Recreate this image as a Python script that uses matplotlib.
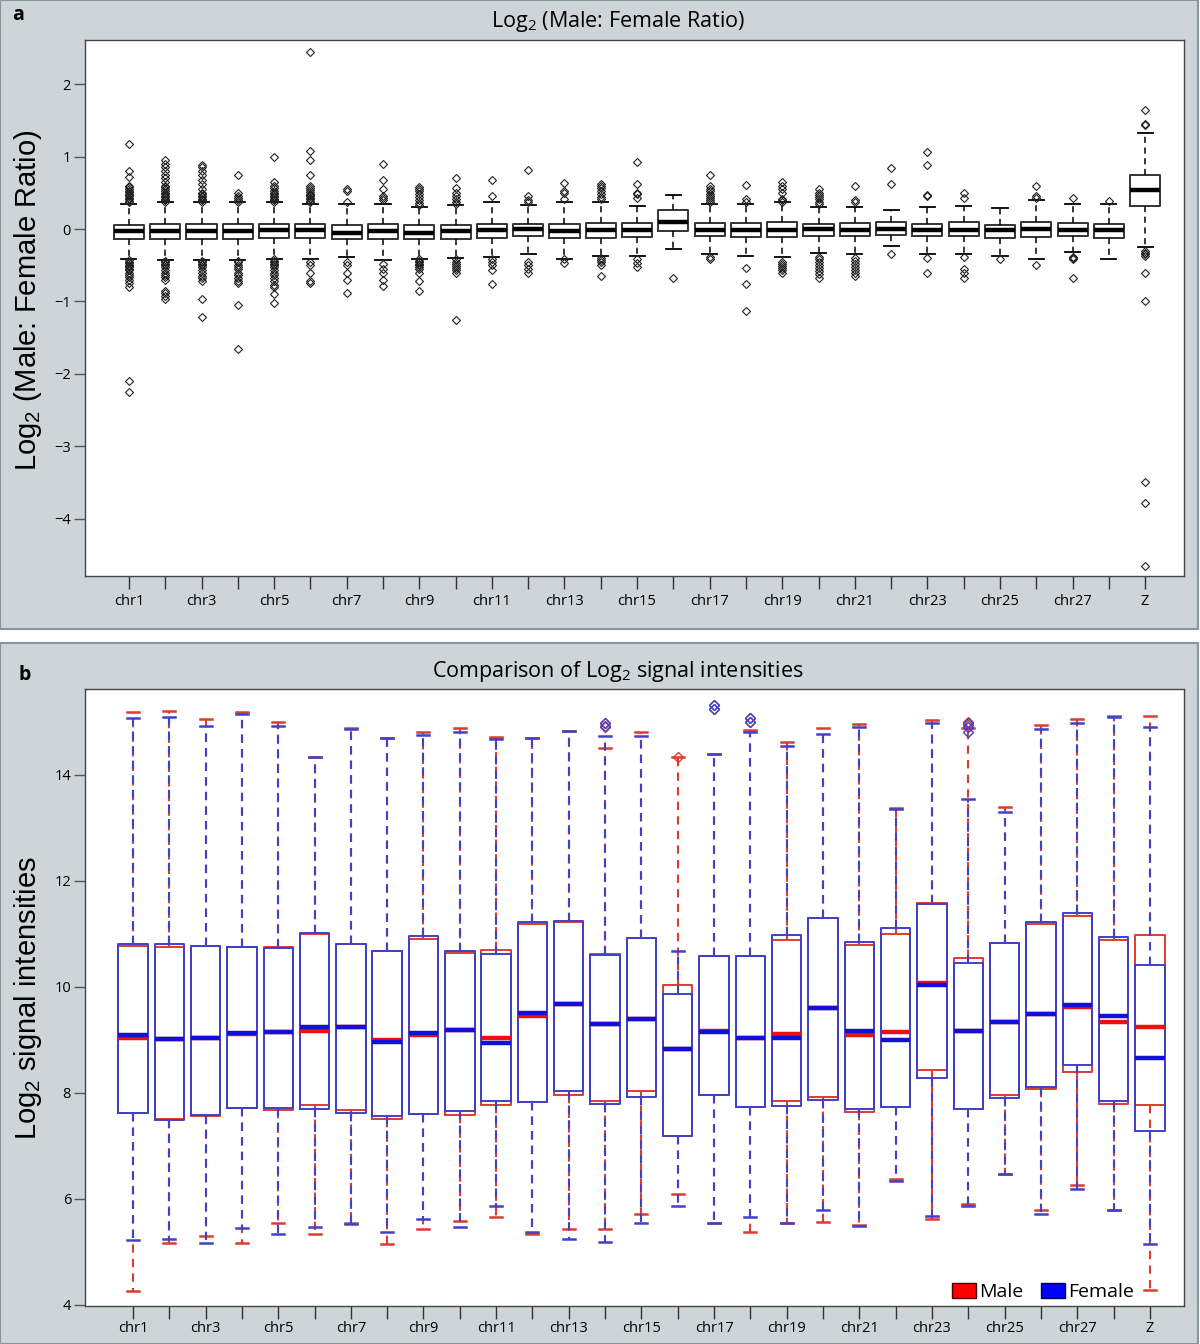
import matplotlib
matplotlib.use("Agg")
import matplotlib.pyplot as plt
from matplotlib.patches import Rectangle, Patch

plt.rcParams['font.family'] = ['Open Sans', 'DejaVu Sans']
plt.rcParams['mathtext.fontset'] = 'custom'
plt.rcParams['mathtext.rm'] = 'Open Sans'
plt.rcParams['mathtext.default'] = 'regular'

# chromosomes
chroms = ['chr%d' % i for i in range(1, 29)] + ['Z']
tick_labels = [c if (i % 2 == 0 or c == 'Z') else '' for i, c in enumerate(chroms)]

# ---- panel a: log2 male/female ratio ----
med_a = [-0.03, -0.03, -0.03, -0.03, -0.01, -0.02, -0.05, -0.03, -0.05, -0.03, -0.01, 0.0, -0.03, -0.01,
         -0.01, 0.10, -0.01, -0.01, -0.01, 0.0, -0.01, 0.0, -0.01, -0.01, -0.02, 0.0, -0.01, -0.02, 0.54]
q1_a = [-0.14, -0.14, -0.14, -0.14, -0.12, -0.12, -0.14, -0.14, -0.14, -0.14, -0.12, -0.10, -0.12, -0.12,
        -0.11, -0.03, -0.09, -0.11, -0.11, -0.10, -0.10, -0.08, -0.10, -0.10, -0.12, -0.11, -0.10, -0.12, 0.32]
q3_a = [0.06, 0.07, 0.07, 0.07, 0.07, 0.07, 0.055, 0.07, 0.055, 0.055, 0.07, 0.07, 0.07, 0.09,
        0.09, 0.26, 0.09, 0.09, 0.10, 0.07, 0.09, 0.10, 0.07, 0.10, 0.055, 0.10, 0.09, 0.07, 0.75]
whi_a = [0.35, 0.37, 0.37, 0.37, 0.37, 0.35, 0.34, 0.35, 0.31, 0.33, 0.37, 0.33, 0.38, 0.38,
         0.32, 0.47, 0.34, 0.35, 0.37, 0.31, 0.31, 0.26, 0.31, 0.32, 0.29, 0.40, 0.35, 0.35, 1.32]
wlo_a = [-0.41, -0.43, -0.43, -0.43, -0.41, -0.41, -0.39, -0.43, -0.41, -0.40, -0.39, -0.35, -0.41, -0.37,
         -0.37, -0.28, -0.35, -0.37, -0.39, -0.33, -0.35, -0.23, -0.35, -0.35, -0.37, -0.41, -0.31, -0.41, -0.25]
fliers_a = [
    [0.37, 0.39, 0.41, 0.43, 0.45, 0.47, 0.49, 0.51, 0.53, 0.55, 0.58, 0.60, 0.72, 0.80, 1.18,
     -0.43, -0.45, -0.47, -0.49, -0.51, -0.53, -0.55, -0.57, -0.60, -0.63, -0.66, -0.70, -0.75, -0.80, -2.10, -2.25],
    [0.38, 0.40, 0.42, 0.44, 0.46, 0.48, 0.50, 0.52, 0.55, 0.58, 0.60, 0.65, 0.70, 0.75, 0.80, 0.85, 0.90, 0.95,
     -0.44, -0.46, -0.48, -0.50, -0.53, -0.56, -0.60, -0.63, -0.66, -0.70, -0.85, -0.88, -0.92, -0.97],
    [0.38, 0.40, 0.42, 0.44, 0.46, 0.48, 0.50, 0.55, 0.62, 0.68, 0.75, 0.80, 0.85, 0.89,
     -0.44, -0.46, -0.48, -0.50, -0.53, -0.56, -0.60, -0.65, -0.68, -0.72, -0.97, -1.22],
    [0.38, 0.40, 0.43, 0.46, 0.50, 0.74,
     -0.44, -0.46, -0.49, -0.52, -0.55, -0.60, -0.64, -0.68, -0.72, -0.75, -1.05, -1.65],
    [0.38, 0.40, 0.42, 0.44, 0.46, 0.48, 0.50, 0.53, 0.56, 0.60, 0.65, 1.00,
     -0.42, -0.44, -0.46, -0.48, -0.50, -0.53, -0.56, -0.60, -0.64, -0.68, -0.72, -0.77, -0.80, -0.90, -1.02],
    [0.37, 0.39, 0.41, 0.43, 0.45, 0.47, 0.49, 0.51, 0.54, 0.57, 0.60, 0.75, 0.95, 1.08, 2.45,
     -0.45, -0.50, -0.60, -0.72, -0.75],
    [0.37, 0.52, 0.55, -0.45, -0.50, -0.60, -0.70, -0.88],
    [0.40, 0.43, 0.45, 0.55, 0.68, 0.90, -0.48, -0.55, -0.60, -0.70, -0.78],
    [0.33, 0.36, 0.40, 0.44, 0.48, 0.52, 0.55, 0.58,
     -0.42, -0.44, -0.46, -0.48, -0.50, -0.53, -0.55, -0.60, -0.72, -0.85],
    [0.35, 0.38, 0.42, 0.46, 0.50, 0.57, 0.70, -0.42, -0.45, -0.48, -0.51, -0.54, -0.57, -0.60, -1.25],
    [0.45, 0.68, -0.42, -0.45, -0.50, -0.57, -0.76],
    [0.37, 0.40, 0.45, 0.82, -0.45, -0.50, -0.55, -0.60],
    [0.42, 0.50, 0.53, 0.64, -0.42, -0.47],
    [0.41, 0.44, 0.48, 0.52, 0.56, 0.60, 0.62, -0.40, -0.43, -0.46, -0.50, -0.65],
    [0.43, 0.48, 0.50, 0.62, 0.93, -0.42, -0.47, -0.53],
    [-0.68],
    [0.37, 0.40, 0.43, 0.46, 0.49, 0.52, 0.55, 0.60, 0.75, -0.38, -0.42],
    [0.38, 0.42, 0.61, -0.54, -0.76, -1.13],
    [0.38, 0.40, 0.42, 0.50, 0.55, 0.60, 0.65, -0.45, -0.48, -0.51, -0.54, -0.57, -0.60],
    [0.35, 0.38, 0.41, 0.44, 0.47, 0.50, 0.55, -0.38, -0.42, -0.46, -0.50, -0.54, -0.58, -0.62, -0.68],
    [0.38, 0.40, 0.59, -0.40, -0.44, -0.48, -0.52, -0.56, -0.60, -0.65],
    [0.62, 0.84, -0.35],
    [0.45, 0.47, 0.88, 1.07, -0.40, -0.60],
    [0.43, 0.50, -0.38, -0.55, -0.60, -0.68],
    [-0.42],
    [0.43, 0.45, 0.60, -0.50],
    [0.43, -0.38, -0.40, -0.42, -0.68],
    [0.39],
    [1.43, 1.45, 1.65, -0.30, -0.33, -0.35, -0.37, -0.60, -1.00, -3.49, -3.78, -4.65],
]

# ---- panel b: log2 signal intensities, male vs female ----
whi_m = [15.18, 15.20, 15.05, 15.18, 15.00, 14.34, 14.88, 14.70, 14.81, 14.88, 14.72, 14.70, 14.82, 14.51,
         14.80, 14.33, 14.40, 14.85, 14.62, 14.88, 14.96, 13.37, 15.03, 14.88, 13.39, 14.94, 15.05, 15.12, 15.12]
q3_m = [10.77, 10.76, 10.78, 10.76, 10.76, 11.00, 10.80, 10.67, 10.91, 10.64, 10.70, 11.19, 11.23, 10.62,
        10.93, 10.03, 10.58, 10.58, 10.88, 11.30, 10.79, 11.00, 11.58, 10.55, 10.83, 11.19, 11.33, 10.88, 10.98]
med_m = [9.04, 9.02, 9.04, 9.12, 9.14, 9.16, 9.25, 8.99, 9.09, 9.18, 9.03, 9.45, 9.67, 9.30,
         9.39, 8.82, 9.16, 9.04, 9.12, 9.60, 9.09, 9.14, 10.07, 9.17, 9.34, 9.48, 9.62, 9.34, 9.25]
q1_m = [7.62, 7.50, 7.56, 7.71, 7.67, 7.77, 7.68, 7.50, 7.60, 7.59, 7.77, 7.82, 7.97, 7.84,
        8.03, 7.19, 7.96, 7.74, 7.84, 7.93, 7.64, 7.74, 8.43, 7.69, 7.96, 8.07, 8.39, 7.79, 7.77]
wlo_m = [4.26, 5.17, 5.31, 5.17, 5.55, 5.33, 5.54, 5.15, 5.43, 5.59, 5.65, 5.33, 5.43, 5.43,
         5.72, 6.10, 5.54, 5.38, 5.54, 5.56, 5.50, 6.38, 5.63, 5.90, 6.47, 5.79, 6.27, 5.79, 4.29]

whi_f = [15.08, 15.10, 14.92, 15.14, 14.92, 14.34, 14.87, 14.70, 14.76, 14.81, 14.67, 14.70, 14.83, 14.74,
         14.74, 10.68, 14.40, 14.80, 14.54, 14.78, 14.90, 13.35, 14.97, 13.54, 13.30, 14.86, 14.97, 15.09, 14.90]
q3_f = [10.80, 10.80, 10.78, 10.76, 10.73, 11.01, 10.80, 10.67, 10.96, 10.68, 10.63, 11.23, 11.24, 10.60,
        10.93, 9.87, 10.58, 10.58, 10.98, 11.30, 10.84, 11.12, 11.56, 10.46, 10.83, 11.22, 11.40, 10.94, 10.42]
med_f = [9.09, 9.02, 9.04, 9.13, 9.14, 9.25, 9.25, 8.96, 9.13, 9.18, 8.95, 9.50, 9.67, 9.30,
         9.39, 8.82, 9.15, 9.04, 9.04, 9.60, 9.16, 9.00, 10.04, 9.17, 9.34, 9.48, 9.66, 9.46, 8.65]
q1_f = [7.62, 7.49, 7.58, 7.71, 7.72, 7.69, 7.62, 7.57, 7.60, 7.65, 7.84, 7.82, 8.04, 7.80,
        7.93, 7.19, 7.96, 7.74, 7.75, 7.86, 7.69, 7.74, 8.29, 7.69, 7.91, 8.11, 8.52, 7.84, 7.28]
wlo_f = [5.22, 5.25, 5.16, 5.45, 5.33, 5.47, 5.52, 5.38, 5.62, 5.47, 5.86, 5.37, 5.25, 5.18,
         5.54, 5.86, 5.54, 5.65, 5.54, 5.79, 5.49, 6.34, 5.67, 5.86, 6.47, 5.72, 6.18, 5.79, 5.15]

fliers_m = [[] for _ in chroms]
fliers_f = [[] for _ in chroms]
fliers_m[13] = [14.90, 14.97]
fliers_f[13] = [14.92, 14.97]
fliers_m[15] = [14.33]
fliers_m[16] = [15.24, 15.32]
fliers_f[16] = [15.24, 15.32]
fliers_m[17] = [15.00, 15.07]
fliers_f[17] = [15.00, 15.07]
fliers_m[23] = [14.95, 15.00]
fliers_f[23] = [14.80, 14.90, 14.97]

RED = '#dc3c30'
RED_MED = '#ee1010'
BLUE = '#4040c8'
BLUE_MED = '#1010d8'
GRAY = '#cdd5d8'
EDGE = '#86969c'


def stats(whi, q3, med, q1, wlo, fl):
    return [dict(whishi=whi[i], q3=q3[i], med=med[i], q1=q1[i], whislo=wlo[i], fliers=fl[i])
            for i in range(len(chroms))]


def style_axis(ax, pad):
    ax.set_xticks(range(1, len(chroms) + 1))
    ax.set_xticklabels(tick_labels, fontsize=10.5)
    ax.tick_params(axis='x', length=9, width=1, color='#333333', pad=pad)
    ax.tick_params(axis='y', length=8, width=1, color='#555555', labelsize=10.5, pad=2)
    for s in ax.spines.values():
        s.set_color('#444444')
        s.set_linewidth(1.0)


fig = plt.figure(figsize=(12, 13.44), dpi=100)
fig.patch.set_facecolor('white')
W, H = 1200.0, 1344.0
fig.patches.append(Rectangle((0, 1 - 629 / H), 1198 / W, 629 / H, transform=fig.transFigure,
                             facecolor=GRAY, edgecolor=EDGE, lw=1.5, zorder=-10))
fig.patches.append(Rectangle((0, 0), 1198 / W, 701 / H, transform=fig.transFigure,
                             facecolor=GRAY, edgecolor=EDGE, lw=1.5, zorder=-10))

# panel a
ax1 = fig.add_axes([85 / W, 1 - 576 / H, 1099 / W, 536 / H])
ax1.bxp(stats(whi_a, q3_a, med_a, q1_a, wlo_a, fliers_a), positions=range(1, 30), widths=0.83,
        boxprops=dict(color='#333333', lw=1.4),
        medianprops=dict(color='black', lw=3.2),
        whiskerprops=dict(color='black', lw=1.1, ls=(0, (4, 3))),
        capprops=dict(color='black', lw=1.3),
        flierprops=dict(marker='D', markersize=4, mfc='none', mec='#222222', mew=0.8))
ax1.set_xlim(-0.21, 30.07)
ax1.set_ylim(-4.79, 2.61)
ax1.set_yticks([2, 1, 0, -1, -2, -3, -4])
style_axis(ax1, 4)

# panel b
ax2 = fig.add_axes([85 / W, 1 - 1306 / H, 1099 / W, 617 / H])
for st, c, mc in [(stats(whi_m, q3_m, med_m, q1_m, wlo_m, fliers_m), RED, RED_MED),
                  (stats(whi_f, q3_f, med_f, q1_f, wlo_f, fliers_f), BLUE, BLUE_MED)]:
    ax2.bxp(st, positions=range(1, 30), widths=0.81, capwidths=0.33,
            boxprops=dict(color=c, lw=1.4),
            medianprops=dict(color=mc, lw=3.2),
            whiskerprops=dict(color=c, lw=1.5, ls=(0, (4, 3))),
            capprops=dict(color=c, lw=1.8),
            flierprops=dict(marker='D', markersize=5, mfc='none', mec=c, mew=1.0))
ax2.set_xlim(-0.32, 29.94)
ax2.set_ylim(3.98, 15.62)
ax2.set_yticks([4, 6, 8, 10, 12, 14])
style_axis(ax2, 1.5)
ax2.legend(handles=[Patch(facecolor='#ff0000', edgecolor='#500000', label='Male'),
                    Patch(facecolor='#0000ff', edgecolor='#000050', label='Female')],
           loc='lower right', bbox_to_anchor=(0.962, -0.005), ncol=2, frameon=False, fontsize=14,
           handlelength=1.2, handleheight=0.8, handletextpad=0.2, columnspacing=0.9, borderaxespad=0)

# titles and labels
fig.text(618 / W, 1 - 22 / H, 'Log$_2$ (Male: Female Ratio)', ha='center', va='center', fontsize=15.5)
fig.text(618 / W, 1 - 672 / H, 'Comparison of Log$_2$ signal intensities', ha='center', va='center',
         fontsize=15.5)
fig.text(18 / W, 1 - 15 / H, 'a', fontsize=14, fontweight='bold', ha='center', va='center')
fig.text(25 / W, 1 - 675 / H, 'b', fontsize=14, fontweight='bold', ha='center', va='center')
fig.text(28 / W, 1 - 300 / H, 'Log$_2$ (Male: Female Ratio)', rotation=90, ha='center', va='center',
         fontsize=21, family=['Liberation Sans', 'DejaVu Sans'])
fig.text(28 / W, 1 - 998 / H, 'Log$_2$ signal intensities', rotation=90, ha='center', va='center',
         fontsize=21, family=['Liberation Sans', 'DejaVu Sans'])

fig.savefig('out.png', dpi=100)
